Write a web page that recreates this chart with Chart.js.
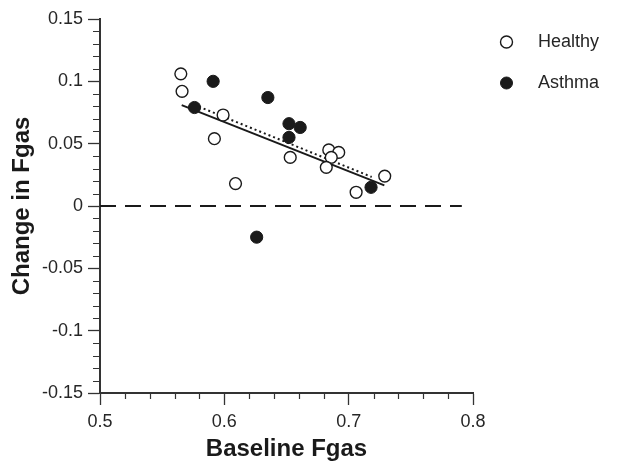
<!DOCTYPE html>
<html><head><meta charset="utf-8">
<script src="https://cdn.jsdelivr.net/npm/chart.js@4"></script>
<style>html,body{margin:0;padding:0;background:#fff}#wrap{width:632px;height:472px}</style>
</head><body><div id="wrap"><canvas id="c" width="632" height="472"></canvas></div>
<script>
// ---- data ----
const healthyX = [0.565, 0.566, 0.599, 0.592, 0.609, 0.653, 0.684, 0.692, 0.686, 0.682, 0.706, 0.729];
const healthyY = [0.106, 0.092, 0.073, 0.054, 0.018, 0.039, 0.045, 0.043, 0.039, 0.031, 0.011, 0.024];
const asthmaX  = [0.591, 0.576, 0.635, 0.652, 0.661, 0.652, 0.718, 0.626];
const asthmaY  = [0.100, 0.079, 0.087, 0.066, 0.063, 0.055, 0.015, -0.025];
const healthyFitX = [0.5657, 0.7287];
const healthyFitY = [0.0809, 0.0166];
const asthmaFitX  = [0.5759, 0.7185];
const asthmaFitY  = [0.0811, 0.0233];
const zeroLineX = [0.5, 0.791];
const zeroLineY = [0, 0];
const xTicks = [0.5, 0.6, 0.7, 0.8];
const yTicks = [-0.15, -0.1, -0.05, 0, 0.05, 0.1, 0.15];
const seriesNames = ['Healthy', 'Asthma'];
const xTitle = 'Baseline Fgas';
const yTitle = 'Change in Fgas';

const pts = (xs, ys) => xs.map((x, i) => ({x: x, y: ys[i]}));
const INK = '#1a1a1a', AXIS = '#333333', LABEL = '#262626';

Chart.defaults.font.family = "'Liberation Sans', Arial, Helvetica, sans-serif";
Chart.defaults.color = INK;

const minorTicks = {
  id: 'minorTicks',
  afterDraw(chart) {
    const ctx = chart.ctx, xs = chart.scales.x, ys = chart.scales.y;
    ctx.save();
    ctx.strokeStyle = AXIS; ctx.lineWidth = 1.2;
    ctx.beginPath();
    for (let i = 0; i <= 15; i++) {
      if (i % 5 === 0) continue;
      const px = Math.round(xs.getPixelForValue(xTicks[0] + i * 0.02)) + 0.5;
      ctx.moveTo(px, xs.top); ctx.lineTo(px, xs.top + 6);
    }
    for (let i = 0; i <= 30; i++) {
      if (i % 5 === 0) continue;
      const py = Math.round(ys.getPixelForValue(yTicks[0] + i * 0.01)) + 0.5;
      ctx.moveTo(ys.right, py); ctx.lineTo(ys.right - 7, py);
    }
    ctx.stroke();
    ctx.restore();
  }
};

const customLegend = {
  id: 'customLegend',
  afterDraw(chart) {
    const ctx = chart.ctx;
    ctx.save();
    const ds = chart.data.datasets;
    [0, 1].forEach((k, i) => {
      const d = ds[k];
      const cy = 42 + i * 41;
      ctx.beginPath();
      ctx.arc(506.5, cy, 6, 0, Math.PI * 2);
      ctx.fillStyle = d.backgroundColor;
      ctx.fill();
      ctx.lineWidth = d.borderWidth;
      ctx.strokeStyle = d.borderColor;
      ctx.stroke();
      ctx.fillStyle = LABEL;
      ctx.font = "18px 'Liberation Sans', Arial, sans-serif";
      ctx.textBaseline = 'middle';
      ctx.textAlign = 'left';
      ctx.fillText(d.label, 538, cy);
    });
    ctx.restore();
  }
};

new Chart(document.getElementById('c'), {
  type: 'scatter',
  data: {
    datasets: [
      {label: seriesNames[0], data: pts(healthyX, healthyY), backgroundColor: '#ffffff', borderColor: INK,
       borderWidth: 1.4, pointRadius: 5.9, pointHoverRadius: 5.9, order: 1},
      {label: seriesNames[1], data: pts(asthmaX, asthmaY), backgroundColor: INK, borderColor: INK,
       borderWidth: 1, pointRadius: 6.1, pointHoverRadius: 6.1, order: 0},
      {label: 'healthy fit', data: pts(healthyFitX, healthyFitY), showLine: true, borderColor: INK,
       borderWidth: 2, pointRadius: 0, order: 5},
      {label: 'asthma fit', data: pts(asthmaFitX, asthmaFitY), showLine: true, borderColor: INK,
       borderWidth: 2, borderDash: [2, 3], pointRadius: 0, order: 5},
      {label: 'zero', data: pts(zeroLineX, zeroLineY), showLine: true, borderColor: INK,
       borderWidth: 2, borderDash: [16, 9], pointRadius: 0, order: 6}
    ]
  },
  options: {
    responsive: false,
    devicePixelRatio: 1,
    animation: false,
    events: [],
    layout: {padding: {top: 19, right: 159, left: 0, bottom: 0}},
    plugins: {legend: {display: false}, tooltip: {enabled: false}},
    scales: {
      x: {
        type: 'linear', min: xTicks[0], max: xTicks[xTicks.length - 1],
        afterFit: s => { s.height = 79; },
        afterBuildTicks: s => { s.ticks = xTicks.map(v => ({value: v})); },
        ticks: {padding: 6, font: {size: 18}, color: LABEL, callback: v => String(Number(v.toFixed(2)))},
        grid: {display: true, drawOnChartArea: false, drawTicks: true, tickLength: 12, tickColor: AXIS, tickWidth: 1.3},
        border: {display: true, color: AXIS, width: 2},
        title: {display: true, text: xTitle, font: {size: 24, weight: 'bold'}, color: INK, padding: {top: 0, bottom: 8}}
      },
      y: {
        type: 'linear', min: yTicks[0], max: yTicks[yTicks.length - 1],
        afterFit: s => { s.width = 100; },
        afterBuildTicks: s => { s.ticks = yTicks.map(v => ({value: v})); },
        ticks: {padding: 5, font: {size: 18}, color: LABEL, callback: v => String(Number(v.toFixed(2)))},
        grid: {display: true, drawOnChartArea: false, drawTicks: true, tickLength: 12, tickColor: AXIS, tickWidth: 1.3},
        border: {display: true, color: AXIS, width: 2},
        title: {display: true, text: yTitle, font: {size: 24, weight: 'bold'}, color: INK, padding: {top: 8, bottom: 0}}
      }
    }
  },
  plugins: [minorTicks, customLegend]
});
</script>
</body></html>
